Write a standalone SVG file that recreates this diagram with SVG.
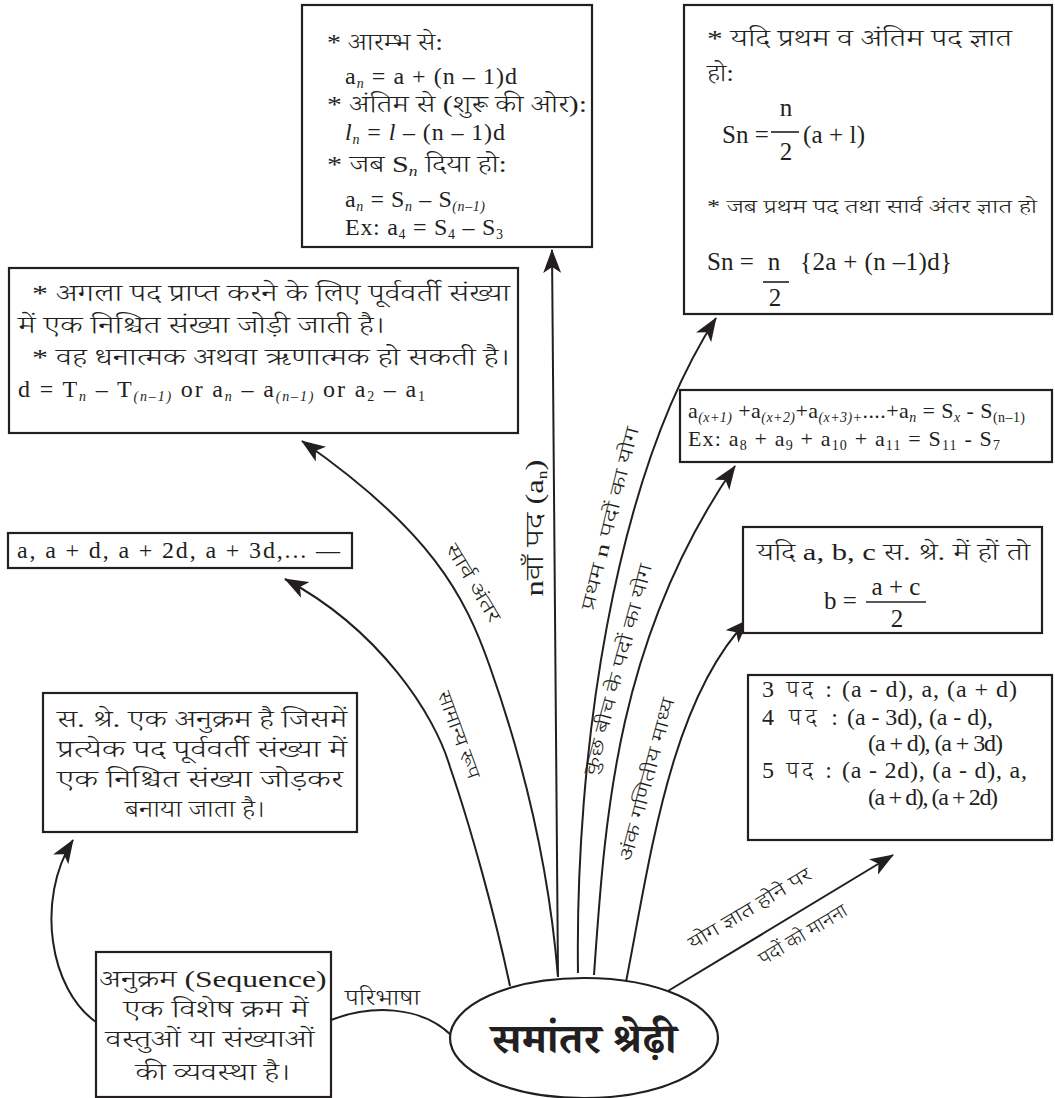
<svg xmlns="http://www.w3.org/2000/svg" width="1055" height="1098" viewBox="0 0 1055 1098">
<style>
.box{fill:#fff;stroke:#231f20;stroke-width:2.2}
.t{font-family:"Liberation Serif","Noto Serif Devanagari","Noto Sans Devanagari","Lohit Devanagari","FreeSerif",serif;font-size:22px;fill:#231f20;font-weight:300}
.f{font-size:24px}
.d{font-size:24px}
.m{font-size:25px}
.s{font-size:19px}
.lbl{font-family:"Liberation Serif","Noto Sans Devanagari","Noto Serif Devanagari","Lohit Devanagari","FreeSans",serif;font-size:19px;fill:#231f20;text-anchor:middle;font-weight:300}
.sub{font-size:14px;font-style:italic}
.sd{font-size:14px}
.c{text-anchor:middle}
.conn{fill:none;stroke:#231f20;stroke-width:2}
.bar{stroke:#231f20;stroke-width:1.6}
</style>
<defs>
<marker id="ah" markerUnits="userSpaceOnUse" markerWidth="24" markerHeight="18" refX="23" refY="9" orient="auto">
<path d="M0,0 L24,9 L0,18 L6,9 Z" fill="#231f20"/>
</marker>
</defs>

<g id="connectors">
<path class="conn" d="M510,986 C495,915 470,825 450,767 C435,715 380,630 285,579" marker-end="url(#ah)"/>
<path class="conn" d="M558,977 C550,880 530,780 490,667 C465,595 430,530 302,441" marker-end="url(#ah)"/>
<path class="conn" d="M558,977 L552,250" marker-end="url(#ah)"/>
<path class="conn" d="M578,973 C575,760 612,480 716,318" marker-end="url(#ah)"/>
<path class="conn" d="M594,975 C605,820 615,640 735,466" marker-end="url(#ah)"/>
<path class="conn" d="M626,982 C650,860 670,700 748,620" marker-end="url(#ah)"/>
<path class="conn" d="M663,994 L893,855" marker-end="url(#ah)"/>
<path class="conn" d="M331,1020 C370,1005 420,1005 451,1035"/>
<path class="conn" d="M96,1022 C50,990 35,900 73,840" marker-end="url(#ah)"/>
<text class="lbl" transform="translate(453,737) rotate(70)" textLength="92" lengthAdjust="spacingAndGlyphs">सामान्य रूप</text>
<text class="lbl" transform="translate(468,586) rotate(59)" textLength="88" lengthAdjust="spacingAndGlyphs">सार्व अंतर</text>
<text class="lbl" style="font-size:26px" transform="translate(543,528) rotate(-90)" textLength="137" lengthAdjust="spacingAndGlyphs">nवाँ पद (a<tspan class="sd" dy="4">n</tspan><tspan dy="-4">)</tspan></text>
<text class="lbl" transform="translate(616,520) rotate(-76)" textLength="188" lengthAdjust="spacingAndGlyphs">प्रथम n पदों का योग</text>
<text class="lbl" transform="translate(624,671) rotate(-75)" textLength="218" lengthAdjust="spacingAndGlyphs">कुछ बीच के पदों का योग</text>
<text class="lbl" transform="translate(653,781) rotate(-75)" textLength="168" lengthAdjust="spacingAndGlyphs">अंक गणितीय माध्य</text>
<text class="lbl" transform="translate(753,914) rotate(-31)" textLength="140" lengthAdjust="spacingAndGlyphs">योग ज्ञात होने पर</text>
<text class="lbl" transform="translate(806,940) rotate(-31)" textLength="100" lengthAdjust="spacingAndGlyphs">पदों को मानना</text>
<text class="t" x="345" y="1005" textLength="75" lengthAdjust="spacingAndGlyphs">परिभाषा</text>
</g>

<g id="n-nth">
<rect class="box" x="302" y="5" width="290" height="242"/>
<text class="t d" x="327" y="50" textLength="116" lengthAdjust="spacingAndGlyphs">* आरम्भ से:</text>
<text class="t f" x="345" y="84" textLength="172" lengthAdjust="spacing">a<tspan class="sub" dy="4">n</tspan><tspan dy="-4"> = a + (n – 1)d</tspan></text>
<text class="t d" x="327" y="112" textLength="260" lengthAdjust="spacingAndGlyphs">* अंतिम से (शुरू की ओर):</text>
<text class="t f" x="345" y="140" textLength="160" lengthAdjust="spacing"><tspan font-style="italic">l</tspan><tspan class="sub" dy="4">n</tspan><tspan dy="-4"> = </tspan><tspan font-style="italic">l</tspan> – (n – 1)d</text>
<text class="t d" x="327" y="172" textLength="180" lengthAdjust="spacingAndGlyphs">* जब S<tspan class="sub" dy="4">n</tspan><tspan dy="-4"> दिया हो:</tspan></text>
<text class="t f" x="345" y="207" textLength="140" lengthAdjust="spacing">a<tspan class="sub" dy="4">n</tspan><tspan dy="-4"> = S</tspan><tspan class="sub" dy="4">n</tspan><tspan dy="-4"> – S</tspan><tspan class="sub" dy="4">(n–1)</tspan></text>
<text class="t f" x="345" y="235" textLength="158" lengthAdjust="spacing">Ex: a<tspan class="sd" dy="4">4</tspan><tspan dy="-4"> = S</tspan><tspan class="sd" dy="4">4</tspan><tspan dy="-4"> – S</tspan><tspan class="sd" dy="4">3</tspan></text>
</g>

<g id="n-sum">
<rect class="box" x="684" y="5" width="368" height="309"/>
<text class="t d" x="707" y="46" textLength="305" lengthAdjust="spacingAndGlyphs">* यदि प्रथम व अंतिम पद ज्ञात</text>
<text class="t d" x="707" y="81" textLength="27" lengthAdjust="spacingAndGlyphs">हो:</text>
<text class="t m" x="722" y="143">Sn =</text>
<text class="t m c" x="786" y="116">n</text>
<line class="bar" x1="771" y1="132" x2="799" y2="132"/>
<text class="t m c" x="786" y="160">2</text>
<text class="t m" x="803" y="143" textLength="62" lengthAdjust="spacing">(a + l)</text>
<text class="t s" x="707" y="213" textLength="330" lengthAdjust="spacingAndGlyphs">* जब प्रथम पद तथा सार्व अंतर ज्ञात हो</text>
<text class="t m" x="707" y="270">Sn =</text>
<text class="t m c" x="774" y="270">n</text>
<line class="bar" x1="763" y1="282" x2="789" y2="282"/>
<text class="t m c" x="775" y="306">2</text>
<text class="t m" x="800" y="270" textLength="152" lengthAdjust="spacing">{2a + (n –1)d}</text>
</g>

<g id="n-diff">
<rect class="box" x="9" y="268" width="509" height="165"/>
<text class="t d" x="32" y="301" textLength="478" lengthAdjust="spacingAndGlyphs">* अगला पद प्राप्त करने के लिए पूर्ववर्ती संख्या</text>
<text class="t d" x="18" y="333" textLength="367" lengthAdjust="spacingAndGlyphs">में एक निश्चित संख्या जोड़ी जाती है।</text>
<text class="t d" x="32" y="365" textLength="478" lengthAdjust="spacingAndGlyphs">* वह धनात्मक अथवा ऋणात्मक हो सकती है।</text>
<text class="t f" x="18" y="397" textLength="407" lengthAdjust="spacing">d = T<tspan class="sub" dy="4">n</tspan><tspan dy="-4"> – T</tspan><tspan class="sub" dy="4">(n–1)</tspan><tspan dy="-4"> or a</tspan><tspan class="sub" dy="4">n</tspan><tspan dy="-4"> – a</tspan><tspan class="sub" dy="4">(n–1)</tspan><tspan dy="-4"> or a</tspan><tspan class="sd" dy="4">2</tspan><tspan dy="-4"> – a</tspan><tspan class="sd" dy="4">1</tspan></text>
</g>

<g id="n-general">
<rect class="box" x="8" y="533" width="344" height="35"/>
<text class="t f" x="17" y="558" textLength="323" lengthAdjust="spacing">a, a + d, a + 2d, a + 3d,... —</text>
</g>

<g id="n-def">
<rect class="box" x="43" y="693" width="314" height="139"/>
<text class="t d c" x="202" y="727" textLength="290" lengthAdjust="spacingAndGlyphs">स. श्रे. एक अनुक्रम है जिसमें</text>
<text class="t d c" x="202" y="757" textLength="290" lengthAdjust="spacingAndGlyphs">प्रत्येक पद पूर्ववर्ती संख्या में</text>
<text class="t d c" x="200" y="787" textLength="286" lengthAdjust="spacingAndGlyphs">एक निश्चित संख्या जोड़कर</text>
<text class="t d c" x="195" y="817" textLength="140" lengthAdjust="spacingAndGlyphs">बनाया जाता है।</text>
</g>

<g id="n-seq">
<rect class="box" x="96" y="952" width="235" height="145"/>
<text class="t d c" x="213" y="987" textLength="227" lengthAdjust="spacingAndGlyphs">अनुक्रम (Sequence)</text>
<text class="t d c" x="216" y="1017" textLength="185" lengthAdjust="spacingAndGlyphs">एक विशेष क्रम में</text>
<text class="t d c" x="210" y="1047" textLength="209" lengthAdjust="spacingAndGlyphs">वस्तुओं या संख्याओं</text>
<text class="t d c" x="213" y="1080" textLength="155" lengthAdjust="spacingAndGlyphs">की व्यवस्था है।</text>
</g>

<g id="n-center">
<ellipse cx="584" cy="1038" rx="134" ry="60" fill="#fff" stroke="#231f20" stroke-width="2.2"/>
<text class="t c" x="584" y="1053" style="font-size:42px;font-weight:bold" textLength="185" lengthAdjust="spacingAndGlyphs">समांतर श्रेढ़ी</text>
</g>

<g id="n-partial">
<rect class="box" x="680" y="390" width="372" height="72"/>
<text class="t" x="688" y="418" textLength="337" lengthAdjust="spacing">a<tspan class="sub" dy="4">(x+1)</tspan><tspan dy="-4"> +a</tspan><tspan class="sub" dy="4">(x+2)</tspan><tspan dy="-4">+a</tspan><tspan class="sub" dy="4">(x+3)+</tspan><tspan dy="-4">....+a</tspan><tspan class="sub" dy="4">n</tspan><tspan dy="-4"> = S</tspan><tspan class="sub" dy="4">x</tspan><tspan dy="-4"> - S</tspan><tspan class="sd" dy="4">(n–1)</tspan></text>
<text class="t" x="688" y="446" textLength="312" lengthAdjust="spacing">Ex: a<tspan class="sd" dy="4">8</tspan><tspan dy="-4"> + a</tspan><tspan class="sd" dy="4">9</tspan><tspan dy="-4"> + a</tspan><tspan class="sd" dy="4">10</tspan><tspan dy="-4"> + a</tspan><tspan class="sd" dy="4">11</tspan><tspan dy="-4"> = S</tspan><tspan class="sd" dy="4">11</tspan><tspan dy="-4"> - S</tspan><tspan class="sd" dy="4">7</tspan></text>
</g>

<g id="n-mean">
<rect class="box" x="743" y="527" width="299" height="106"/>
<text class="t d" x="757" y="560" textLength="273" lengthAdjust="spacingAndGlyphs">यदि a, b, c स. श्रे. में हों तो</text>
<text class="t m" x="824" y="609">b =</text>
<text class="t m c" x="896" y="595">a + c</text>
<line class="bar" x1="866" y1="602" x2="926" y2="602"/>
<text class="t m c" x="897" y="627">2</text>
</g>

<g id="n-terms">
<rect class="box" x="748" y="675" width="304" height="165"/>
<text class="t d" x="762" y="697" textLength="70" lengthAdjust="spacing">3 पद :</text>
<text class="t f" x="842" y="697" textLength="175" lengthAdjust="spacing">(a - d), a, (a + d)</text>
<text class="t d" x="762" y="725" textLength="76" lengthAdjust="spacing">4 पद  :</text>
<text class="t f" x="847" y="725" textLength="146" lengthAdjust="spacing">(a - 3d), (a - d),</text>
<text class="t f" x="868" y="751" textLength="135" lengthAdjust="spacing">(a + d), (a + 3d)</text>
<text class="t d" x="762" y="778" textLength="70" lengthAdjust="spacing">5 पद :</text>
<text class="t f" x="842" y="778" textLength="185" lengthAdjust="spacing">(a - 2d), (a - d), a,</text>
<text class="t f" x="868" y="805" textLength="130" lengthAdjust="spacing">(a + d), (a + 2d)</text>
</g>
</svg>
